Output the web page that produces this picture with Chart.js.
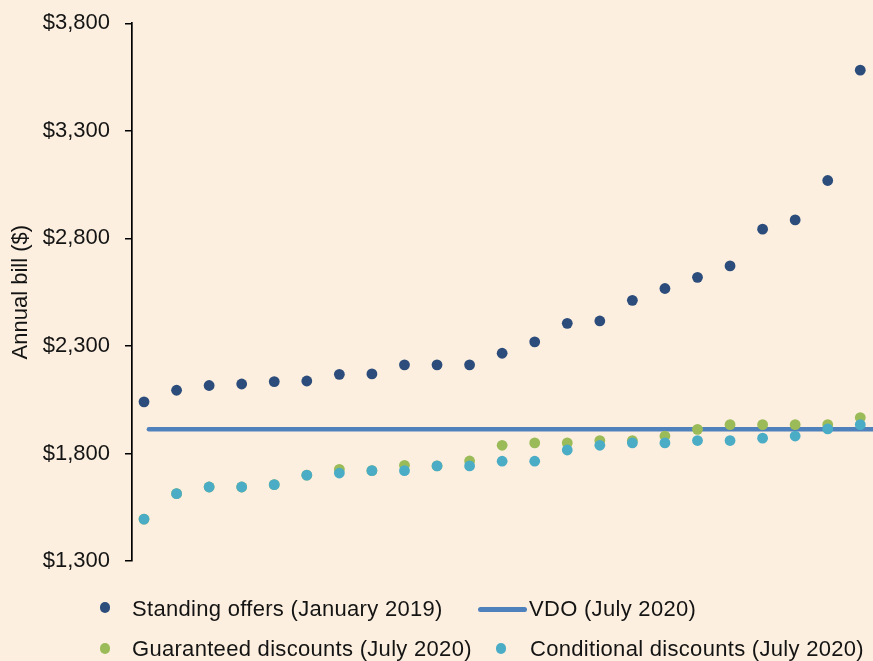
<!DOCTYPE html>
<html>
<head>
<meta charset="utf-8">
<script src="https://cdn.jsdelivr.net/npm/chart.js@4"></script>
<style>
html,body{margin:0;padding:0;background:#FCEFDF;overflow:hidden}
#wrap{position:relative;width:873px;height:661px;background:#FCEFDF;overflow:hidden}
canvas{position:absolute;left:0;top:0}
.lg{position:absolute;font-family:"Liberation Sans",Arial,sans-serif;font-size:22px;letter-spacing:0.3px;color:#141414;line-height:26px;white-space:nowrap}
.dot{position:absolute;width:10.5px;height:10.5px;border-radius:50%}
.ln{position:absolute;height:5px;border-radius:2.5px}
</style>
</head>
<body>
<div id="wrap">
<canvas id="c" width="880" height="661"></canvas>
<div id="legend"></div>
</div>
<script>
// Retailer offers ranked by price (categories, unlabelled on the chart)
const offers = [0,1,2,3,4,5,6,7,8,9,10,11,12,13,14,15,16,17,18,19,20,21,22];
const standingOffers = [2040,2094,2116,2123,2134,2137,2168,2170,2212,2212,2212,2266,2319,2405,2416,2512,2567,2619,2672,2843,2886,3069,3582];
const guaranteedDiscounts = [1495,1613,1644,1644,1655,1699,1726,1720,1745,1742,1765,1838,1849,1849,1860,1860,1881,1912,1934,1934,1934,1934,1967];
const conditionalDiscounts = [1495,1613,1644,1644,1655,1699,1709,1720,1720,1742,1742,1764,1764,1816,1838,1849,1849,1860,1860,1871,1881,1914,1934];
const vdoLevel = 1913;
const vdoRange = [0.15, 23];
const yTicks = [1300,1800,2300,2800,3300,3800];
const seriesNames = ['Standing offers (January 2019)','VDO (July 2020)','Guaranteed discounts (July 2020)','Conditional discounts (July 2020)'];
const colors = {standing:'#2C4D7B', vdo:'#4F81BD', guaranteed:'#9BBB59', conditional:'#4BACC6'};

const toPts = arr => arr.map((v,i) => ({x: offers[i], y: v}));
const FONT = '"Liberation Sans", Arial, sans-serif';
const R = 5.4;

const ctx = document.getElementById('c').getContext('2d');
const chart = new Chart(ctx, {
  type: 'scatter',
  data: {
    datasets: [
      {label: seriesNames[0], data: toPts(standingOffers), backgroundColor: colors.standing, pointRadius: R, pointHoverRadius: R, borderWidth: 0, order: 1},
      {label: seriesNames[1], type: 'line', data: vdoRange.map(x => ({x, y: vdoLevel})), borderColor: colors.vdo, borderWidth: 4.5, borderCapStyle: 'round', pointRadius: 0, fill: false, order: 4},
      {label: seriesNames[2], data: toPts(guaranteedDiscounts), backgroundColor: colors.guaranteed, pointRadius: R, pointHoverRadius: R, borderWidth: 0, order: 3},
      {label: seriesNames[3], data: toPts(conditionalDiscounts), backgroundColor: colors.conditional, pointRadius: R, pointHoverRadius: R, borderWidth: 0, order: 2}
    ]
  },
  options: {
    responsive: false,
    animation: false,
    devicePixelRatio: 1,
    layout: {padding: {top: 23.3, bottom: 100, left: 0, right: 0}},
    plugins: {legend: {display: false}, tooltip: {enabled: false}},
    scales: {
      x: {
        type: 'linear', min: -0.369, max: 22.44, display: false,
        ticks: {display: false},
        afterFit: s => { s.paddingLeft = 0; s.paddingRight = 0; }
      },
      y: {
        type: 'linear', min: 1300, max: 3800,
        afterBuildTicks: s => { s.ticks = yTicks.map(v => ({value: v})); },
        afterFit: s => { s.width = 132; s.paddingTop = 0; s.paddingBottom = 0; },
        ticks: {
          color: '#141414', padding: 15,
          font: {family: FONT, size: 22},
          callback: v => '$' + Number(v).toLocaleString('en-US')
        },
        grid: {drawOnChartArea: false, drawTicks: true, tickLength: 7, color: '#000', lineWidth: 1.5},
        border: {display: true, color: '#000', width: 1.7},
        title: {display: true, text: 'Annual bill ($)', color: '#141414', font: {family: FONT, size: 22}, padding: {top: 8, bottom: 0}}
      }
    }
  }
});

// Legend (HTML text)
const legendLayout = [
  {name: seriesNames[0], kind: 'dot', color: colors.standing, mx: 105, my: 607.5, tx: 132, base: 617},
  {name: seriesNames[1], kind: 'line', color: colors.vdo, mx: 478, mw: 49, my: 609, tx: 529, base: 617},
  {name: seriesNames[2], kind: 'dot', color: colors.guaranteed, mx: 105, my: 648.3, tx: 132, base: 657},
  {name: seriesNames[3], kind: 'dot', color: colors.conditional, mx: 501, my: 648.3, tx: 530, base: 657}
];
const lg = document.getElementById('legend');
legendLayout.forEach(it => {
  const m = document.createElement('div');
  if (it.kind === 'dot') {
    m.className = 'dot';
    m.style.left = (it.mx - 5.25) + 'px';
    m.style.top = (it.my - 5.25) + 'px';
  } else {
    m.className = 'ln';
    m.style.left = it.mx + 'px';
    m.style.width = it.mw + 'px';
    m.style.top = (it.my - 2.5) + 'px';
  }
  m.style.background = it.color;
  lg.appendChild(m);
  const t = document.createElement('div');
  t.className = 'lg';
  t.textContent = it.name;
  t.style.left = it.tx + 'px';
  t.style.top = (it.base - 20.6) + 'px';
  lg.appendChild(t);
});
</script>
</body>
</html>
